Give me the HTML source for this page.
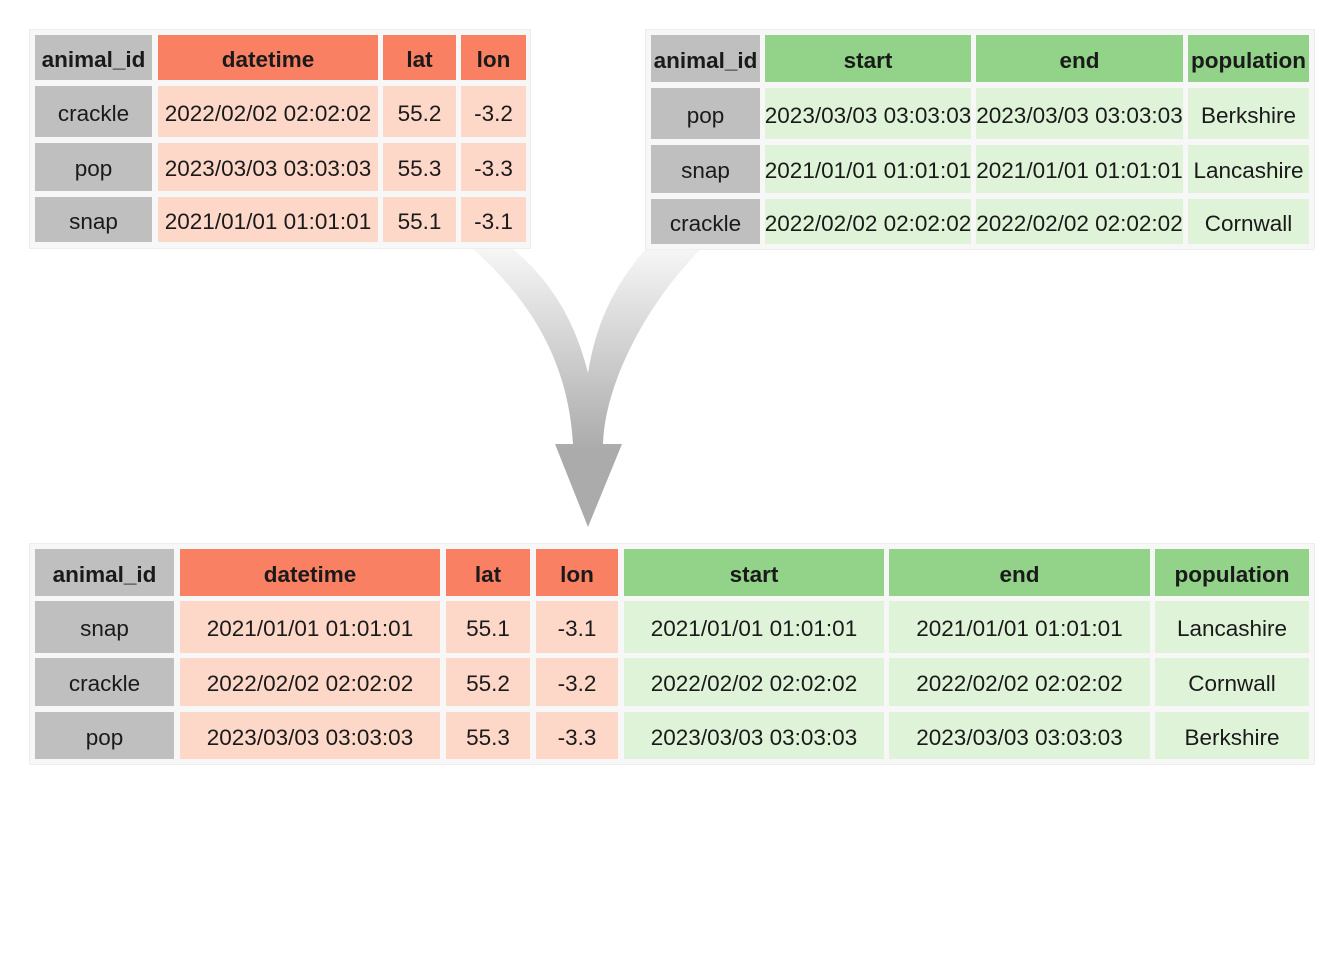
<!DOCTYPE html>
<html><head><meta charset="utf-8"><style>
body{margin:0;width:1344px;height:960px;background:#fff;position:relative;overflow:hidden;font-family:"Liberation Sans",Arial,sans-serif;color:#1a1a1a}
.t{position:absolute;background:#f7f7f7;border:1px solid #eee;box-sizing:border-box}
.c{position:absolute;display:flex;align-items:center;justify-content:center;font-size:22.5px;white-space:nowrap;padding-top:4px;box-sizing:border-box}
.c span{display:inline-block}
.h{font-weight:bold}
.g{background:#bfbfbf}.o{background:#fa8063}.p{background:#fdd8c9}.G{background:#92d289}.L{background:#dff3d9}
</style></head><body>
<svg width="1344" height="960" style="position:absolute;left:0;top:0">
<defs><linearGradient id="gr" x1="0" y1="249" x2="0" y2="450" gradientUnits="userSpaceOnUse"><stop offset="0" stop-color="#f6f6f6"/><stop offset="1" stop-color="#ababab"/></linearGradient></defs>
<path d="M473,249 C530,300 568,360 573,444 L555,444 L588,527 L622,444 L603,444 C605,380 650,300 700,250 L645,250 C610,290 595,330 588,373 C575,320 550,280 513,249 Z" fill="url(#gr)"/>
</svg>
<div class="t" style="left:29px;top:29px;width:502px;height:220px"></div>
<div class="t" style="left:645px;top:29px;width:670px;height:221px"></div>
<div class="t" style="left:29px;top:543px;width:1286px;height:222px"></div>
<div id="cells"></div>
<script>
function tbl(cols,rows,data,cls){let h='';for(let r=0;r<rows.length;r++)for(let c=0;c<cols.length;c++){let k=r==0?(c==0?'g h':cls[c][0]+' h'):(c==0?'g':cls[c][1]);h+=`<div class="c ${k}" style="left:${cols[c][0]}px;width:${cols[c][1]-cols[c][0]}px;top:${rows[r][0]}px;height:${rows[r][1]-rows[r][0]}px"><span>${data[r][c]}</span></div>`;}return h;}
const O=['o','p'],G=['G','L'];
let h='';
h+=tbl([[35,152],[158,378],[383,456],[461,526]],[[35,80],[86,137],[143,191],[197,242]],
[['animal_id','datetime','lat','lon'],['crackle','2022/02/02 02:02:02','55.2','-3.2'],['pop','2023/03/03 03:03:03','55.3','-3.3'],['snap','2021/01/01 01:01:01','55.1','-3.1']],[0,O,O,O]);
h+=tbl([[651,760],[765,971],[976,1183],[1188,1309]],[[35,82],[88,139],[145,193],[199,244]],
[['animal_id','start','end','population'],['pop','2023/03/03 03:03:03','2023/03/03 03:03:03','Berkshire'],['snap','2021/01/01 01:01:01','2021/01/01 01:01:01','Lancashire'],['crackle','2022/02/02 02:02:02','2022/02/02 02:02:02','Cornwall']],[0,G,G,G]);
h+=tbl([[35,174],[180,440],[446,530],[536,618],[624,884],[889,1150],[1155,1309]],[[549,596],[601,653],[658,706],[712,759]],
[['animal_id','datetime','lat','lon','start','end','population'],['snap','2021/01/01 01:01:01','55.1','-3.1','2021/01/01 01:01:01','2021/01/01 01:01:01','Lancashire'],['crackle','2022/02/02 02:02:02','55.2','-3.2','2022/02/02 02:02:02','2022/02/02 02:02:02','Cornwall'],['pop','2023/03/03 03:03:03','55.3','-3.3','2023/03/03 03:03:03','2023/03/03 03:03:03','Berkshire']],[0,O,O,O,G,G,G]);
document.getElementById('cells').innerHTML=h;
</script>
</body></html>
